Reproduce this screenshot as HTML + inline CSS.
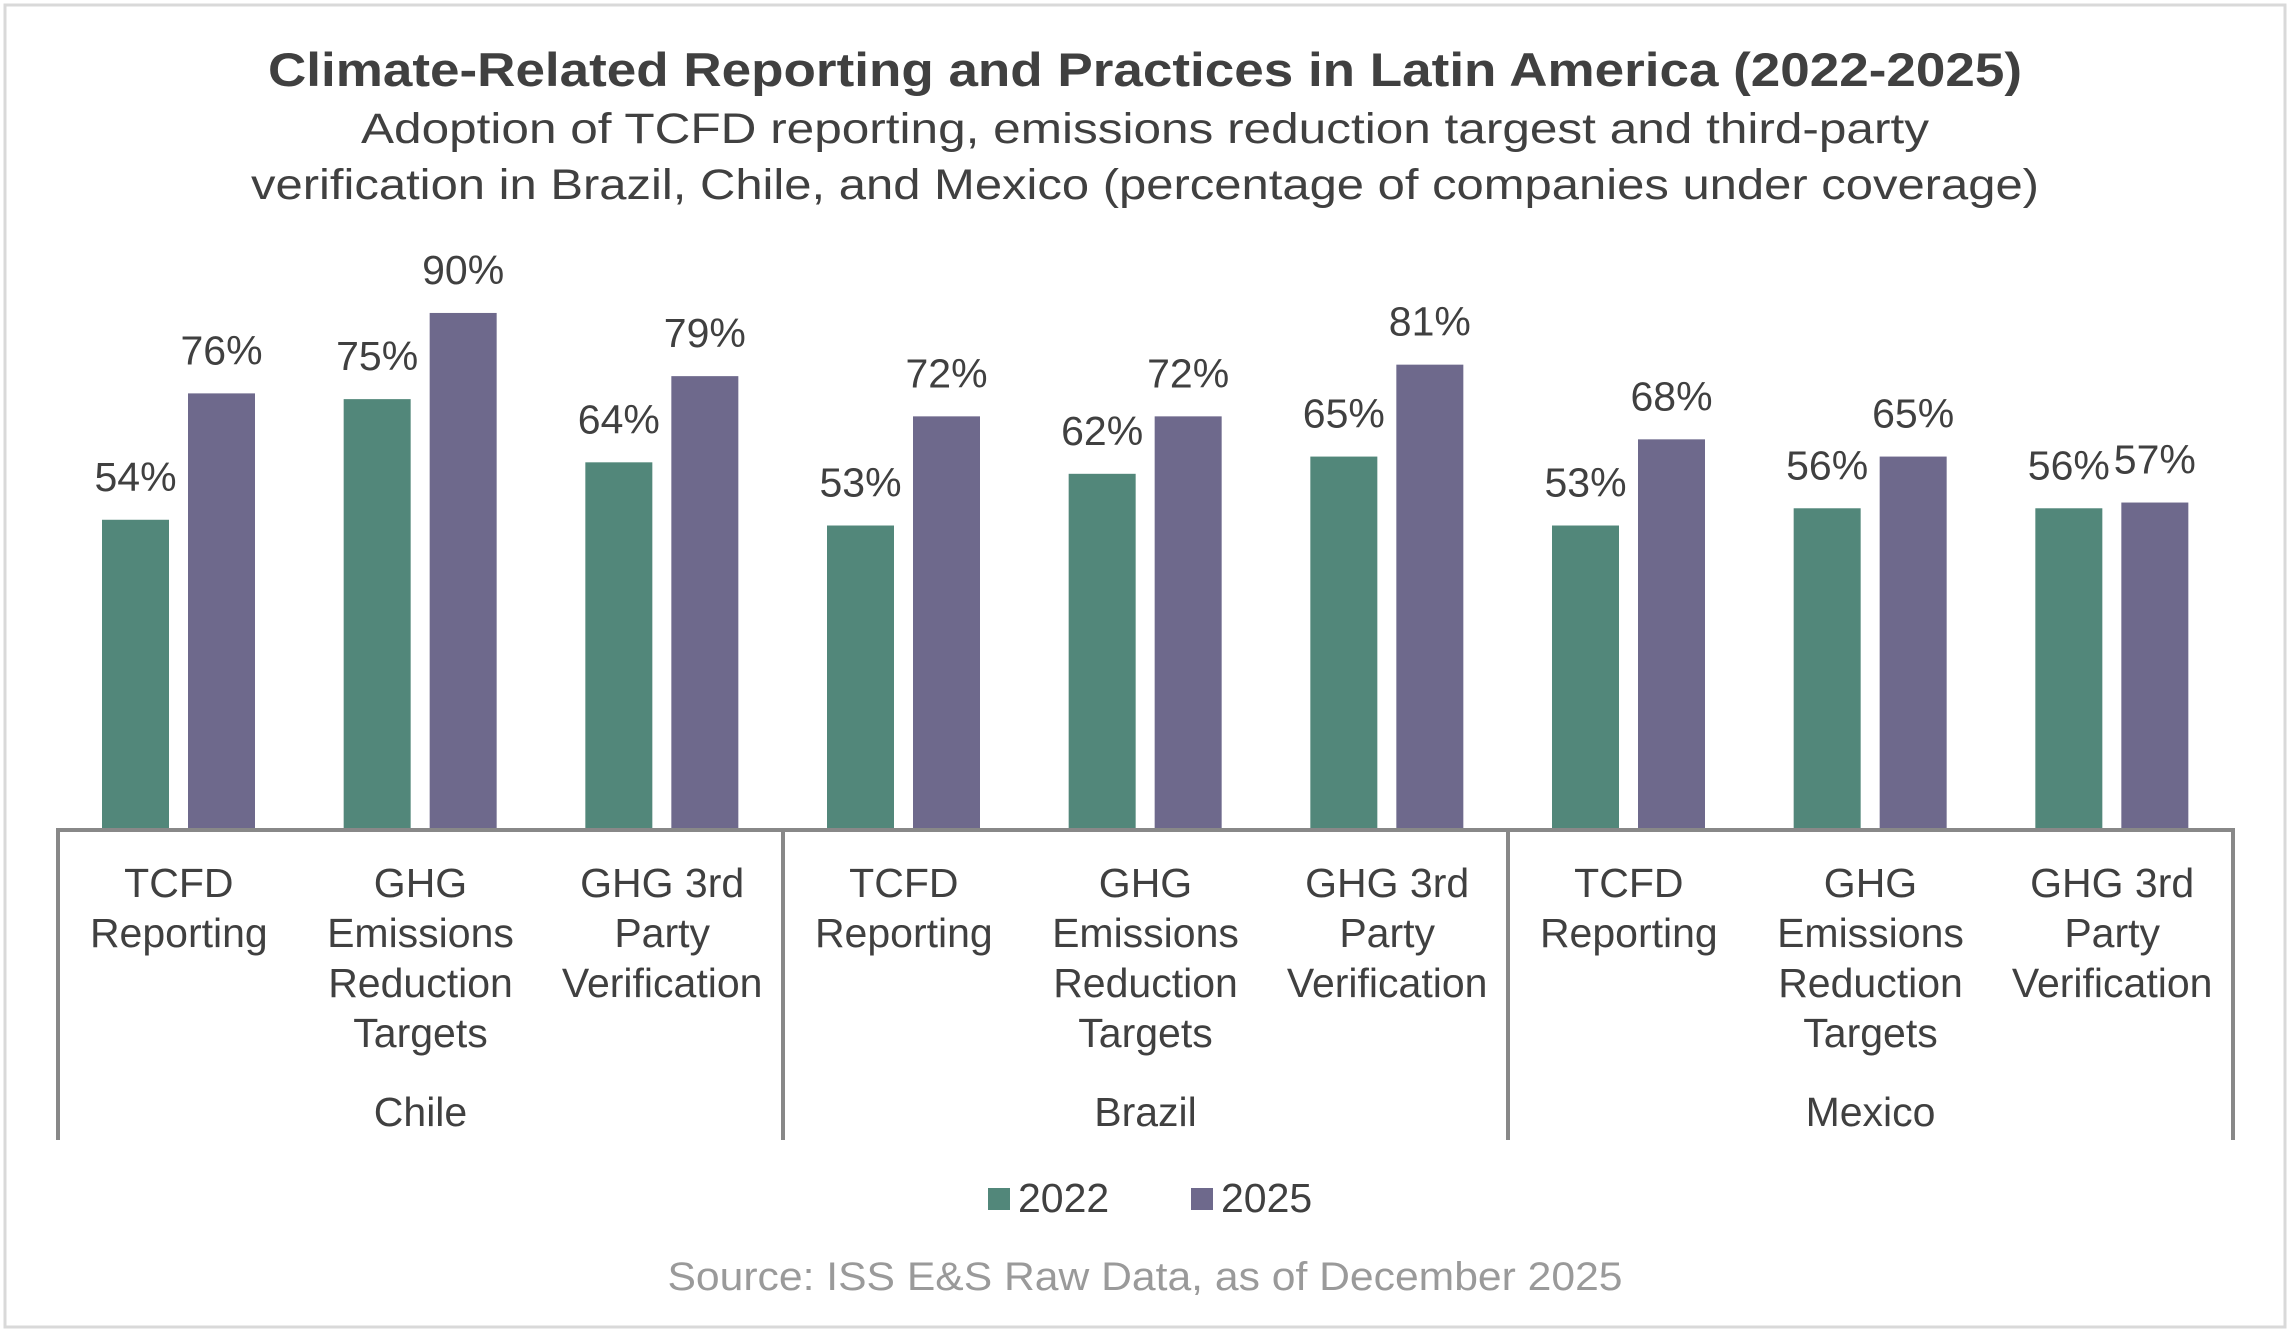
<!DOCTYPE html>
<html><head><meta charset="utf-8"><style>
html,body{margin:0;padding:0;background:#fff;}
svg{display:block;font-family:"Liberation Sans",Arial,sans-serif;}
</style></head><body>
<svg id="chart" width="2291" height="1333" viewBox="0 0 2291 1333" xmlns="http://www.w3.org/2000/svg">
<rect x="5" y="5" width="2280" height="1322" fill="#fff" stroke="#d9d9d9" stroke-width="3"/>
<text x="1145" y="86" text-anchor="middle" font-size="47" font-weight="bold" fill="#404040" textLength="1754" lengthAdjust="spacingAndGlyphs">Climate-Related Reporting and Practices in Latin America (2022-2025)</text>
<text x="1145" y="143" text-anchor="middle" font-size="43" fill="#404040" textLength="1568" lengthAdjust="spacingAndGlyphs">Adoption of TCFD reporting, emissions reduction targest and third-party</text>
<text x="1145" y="199" text-anchor="middle" font-size="43" fill="#404040" textLength="1788" lengthAdjust="spacingAndGlyphs">verification in Brazil, Chile, and Mexico (percentage of companies under coverage)</text>
<g id="bars"></g>
<g id="axis"></g>
<g>
<rect x="988" y="1188" width="22" height="22" fill="#52877a"/>
<text x="1018" y="1212" font-size="41" fill="#404040">2022</text>
<rect x="1191" y="1188" width="22" height="22" fill="#6e698c"/>
<text x="1221" y="1212" font-size="41" fill="#404040">2025</text>
</g>
<text x="1145" y="1290" text-anchor="middle" font-size="40" fill="#9a9a9a" textLength="955" lengthAdjust="spacingAndGlyphs">Source: ISS E&amp;S Raw Data, as of December 2025</text>
</svg>
<script>
const countries = ["Chile", "Brazil", "Mexico"];
const metrics = [["TCFD","Reporting"],["GHG","Emissions","Reduction","Targets"],["GHG 3rd","Party","Verification"]];
const values2022 = [54, 75, 64, 53, 62, 65, 53, 56, 56];
const values2025 = [76, 90, 79, 72, 72, 81, 68, 65, 57];

const NS = "http://www.w3.org/2000/svg";
const x0 = 58, x1 = 2233, baseY = 830, pxPerPct = 5.745;
const catW = (x1 - x0) / 9;
const yScale = v => baseY - v * pxPerPct;
const catX = i => x0 + i * catW;
const barsG = document.getElementById('bars');
const axisG = document.getElementById('axis');
function mk(tag, attrs, parent, text) {
  const e = document.createElementNS(NS, tag);
  for (const k in attrs) e.setAttribute(k, attrs[k]);
  if (text !== undefined) e.textContent = text;
  parent.appendChild(e);
  return e;
}
const series = [{vals: values2022, color: "#52877a", off: 44, name: "2022"}, {vals: values2025, color: "#6e698c", off: 130, name: "2025"}];
for (let i = 0; i < 9; i++) {
  series.forEach(s => {
    const v = s.vals[i];
    const bx = catX(i) + s.off;
    const r = mk('rect', {x: bx, y: yScale(v), width: 67, height: baseY - yScale(v), fill: s.color}, barsG);
    
    
    const t = mk('text', {x: bx + 33.5, y: yScale(v) - 29, 'text-anchor': 'middle', 'font-size': 41, fill: '#404040'}, barsG, v + '%');
    
    
  });
  const lines = metrics[i % 3];
  lines.forEach((ln, j) => {
    const t = mk('text', {x: catX(i) + catW / 2, y: 897 + j * 50, 'text-anchor': 'middle', 'font-size': 41, fill: '#404040'}, axisG, ln);
    
    
  });
}
const base = mk('line', {x1: x0 - 2, x2: x1 + 2, y1: baseY, y2: baseY, stroke: '#888', 'stroke-width': 4}, axisG);


for (let g = 0; g <= 3; g++) {
  const x = catX(g * 3);
  const l = mk('line', {x1: x, x2: x, y1: baseY, y2: 1140, stroke: '#888', 'stroke-width': 4}, axisG);
  
  
}
countries.forEach((c, g) => {
  const t = mk('text', {x: catX(g * 3) + catW * 1.5, y: 1126, 'text-anchor': 'middle', 'font-size': 41, fill: '#404040'}, axisG, c);
  
  
});
</script>
</body></html>
